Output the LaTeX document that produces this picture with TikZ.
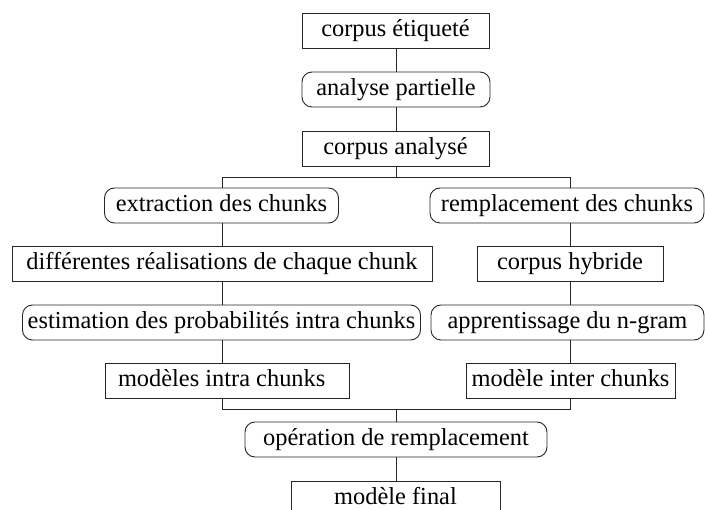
\documentclass[tikz,border=0pt]{standalone}
\usepackage{fontspec}
\setmainfont{Liberation Serif}
\begin{document}
\begin{tikzpicture}[x=1pt,y=-1pt,
  box/.style={draw=black!85, line width=0.9pt, minimum height=35pt, inner sep=0pt,
              text height=17pt, text depth=5pt,
              font=\fontsize{24.4}{28}\selectfont},
  rbox/.style={box, rounded corners=10pt},
  link/.style={draw=black!85, line width=0.9pt}]
\useasboundingbox (0,0) rectangle (705,510);
% column guides
\coordinate (mc) at (396,0);
\coordinate (lc) at (222,0);
\coordinate (rc) at (570.5,0);
\coordinate (b1) at (396,177);
\coordinate (b2) at (396,409.5);
% nodes
\node[box,  minimum width=187pt] (n1)  at (395.5,31)   {corpus étiqueté};
\node[rbox, minimum width=188pt] (n2)  at (396,89.5)   {analyse partielle};
\node[box,  minimum width=187pt] (n3)  at (395.5,148.5) {corpus analysé};
\node[rbox, minimum width=234pt] (n4)  at (221.5,205.5) {extraction des chunks};
\node[rbox, minimum width=274pt] (n5)  at (567,205.5)  {remplacement des chunks};
\node[box,  minimum width=420pt] (n6)  at (222,264)    {différentes réalisations de chaque chunk};
\node[box,  minimum width=186pt] (n7)  at (570,264)    {corpus hybride};
\node[rbox, minimum width=398pt] (n8)  at (221.5,322.5) {estimation des probabilités intra chunks};
\node[rbox, minimum width=273pt] (n9)  at (567.5,322.5) {apprentissage du n-gram};
\node[box,  minimum width=244pt] (n10) at (227,380.5)  {\makebox[244pt][l]{\hspace{13pt}modèles intra chunks}};
\node[box,  minimum width=209pt] (n11) at (570.5,380.5) {modèle inter chunks};
\node[rbox, minimum width=302pt] (n12) at (396,439.5)  {opération de remplacement};
\node[box,  minimum width=209pt] (n13) at (395.5,498.5) {modèle final};
% connectors
\draw[link] (mc |- n1.south) -- (mc |- n2.north);
\draw[link] (mc |- n2.south) -- (mc |- n3.north);
\draw[link] (mc |- n3.south) -- (b1);
\draw[link] (lc |- b1) -- (rc |- b1);
\draw[link] (lc |- b1) -- (lc |- n4.north);
\draw[link] (rc |- b1) -- (rc |- n5.north);
\draw[link] (lc |- n4.south) -- (lc |- n6.north);
\draw[link] (lc |- n6.south) -- (lc |- n8.north);
\draw[link] (lc |- n8.south) -- (lc |- n10.north);
\draw[link] (lc |- n10.south) -- (lc |- b2);
\draw[link] (rc |- n5.south) -- (rc |- n7.north);
\draw[link] (rc |- n7.south) -- (rc |- n9.north);
\draw[link] (rc |- n9.south) -- (rc |- n11.north);
\draw[link] (rc |- n11.south) -- (rc |- b2);
\draw[link] (lc |- b2) -- (rc |- b2);
\draw[link] (b2) -- (mc |- n12.north);
\draw[link] (mc |- n12.south) -- (mc |- n13.north);
\end{tikzpicture}
\end{document}
